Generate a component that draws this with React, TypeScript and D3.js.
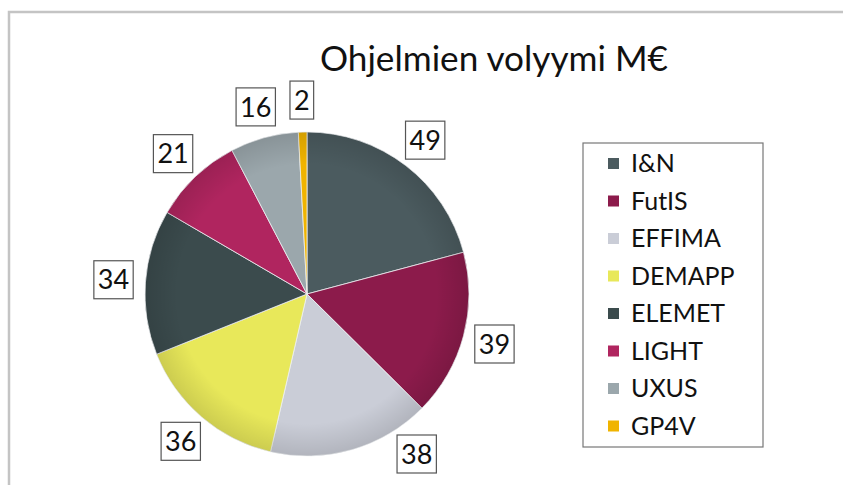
import React, { useEffect, useRef } from "react";
import * as d3 from "d3";

const categories = ["I&N", "FutIS", "EFFIMA", "DEMAPP", "ELEMET", "LIGHT", "UXUS", "GP4V"];
const values = [49, 39, 38, 36, 34, 21, 16, 2];
const colors = ["#4b5b5f", "#8c1b4b", "#cacdd7", "#e8e85a", "#3b4b4d", "#b0255f", "#9ba7ac", "#f0b400"];
const title = "Ohjelmien volyymi M€";

const W = 843;
const H = 485;
const FONT = "Lato, 'Open Sans', sans-serif";

const App = () => {
  const ref = useRef<SVGSVGElement | null>(null);

  useEffect(() => {
    const svg = d3.select(ref.current);
    svg.selectAll("*").remove();

    // outer frame
    svg
      .append("path")
      .attr("d", `M9,${H} V12 H${W}`)
      .attr("fill", "none")
      .attr("stroke", "#c4c4c4")
      .attr("stroke-width", 2.5);

    svg
      .append("text")
      .attr("x", 494)
      .attr("y", 71)
      .attr("text-anchor", "middle")
      .attr("font-family", FONT)
      .attr("font-size", 34)
      .attr("fill", "#111")
      .attr("textLength", 348)
      .attr("lengthAdjust", "spacingAndGlyphs")
      .text(title);

    const cx = 307;
    const cy = 294;
    const r = 162;
    const labelR = 194;
    const maxDy = 160;

    const data = categories.map((c, i) => ({ name: c, value: values[i], color: colors[i] }));
    const pie = d3.pie<any>().value((d) => d.value).sort(null);
    const arcs = pie(data);
    const arc = d3.arc<any>().innerRadius(0).outerRadius(r);

    const g = svg.append("g").attr("transform", `translate(${cx},${cy})`);

    g.selectAll("path.slice")
      .data(arcs)
      .join("path")
      .attr("class", "slice")
      .attr("d", arc)
      .attr("fill", (d) => d.data.color)
      .attr("stroke", "#eef0f2")
      .attr("stroke-width", 0.8);

    // soft shading like the original 3D-ish look
    const defs = svg.append("defs");
    const rg = defs
      .append("radialGradient")
      .attr("id", "shade")
      .attr("cx", "50%")
      .attr("cy", "50%")
      .attr("r", "50%");
    rg.append("stop").attr("offset", "80%").attr("stop-color", "#000").attr("stop-opacity", 0);
    rg.append("stop").attr("offset", "100%").attr("stop-color", "#000").attr("stop-opacity", 0.12);
    g.append("circle").attr("r", r).attr("fill", "url(#shade)");

    // data labels, outside end (pushed sideways when they'd fall off the bottom)
    const labels = g
      .selectAll("g.lbl")
      .data(arcs)
      .join("g")
      .attr("class", "lbl")
      .attr("transform", (d) => {
        let a = (d.startAngle + d.endAngle) / 2;
        let dy = -Math.cos(a) * labelR;
        if (dy > maxDy) {
          const off = Math.acos(maxDy / labelR);
          a = a < Math.PI ? Math.PI - off : Math.PI + off;
        }
        const x = Math.sin(a) * labelR;
        const y = -Math.cos(a) * labelR;
        return `translate(${x},${y})`;
      });

    labels.each(function (d) {
      const sel = d3.select(this);
      const t = sel
        .append("text")
        .attr("text-anchor", "middle")
        .attr("dy", "0.36em")
        .attr("font-family", FONT)
        .attr("font-size", 27)
        .attr("fill", "#111")
        .text(String(d.data.value));
      const bb = (t.node() as SVGTextElement).getBBox();
      const padX = 4;
      const h = 38;
      sel
        .insert("rect", "text")
        .attr("x", bb.x - padX)
        .attr("y", -h / 2)
        .attr("width", bb.width + padX * 2)
        .attr("height", h)
        .attr("fill", "#fff")
        .attr("stroke", "#555")
        .attr("stroke-width", 1.2);
    });

    // legend
    const lx = 583;
    const ly = 143;
    const lw = 180;
    const lh = 304;
    svg
      .append("rect")
      .attr("x", lx)
      .attr("y", ly)
      .attr("width", lw)
      .attr("height", lh)
      .attr("fill", "#fff")
      .attr("stroke", "#777")
      .attr("stroke-width", 1.2);

    const step = 37.5;
    const items = svg
      .selectAll("g.leg")
      .data(data)
      .join("g")
      .attr("class", "leg")
      .attr("transform", (d, i) => `translate(${lx + 25},${ly + 20 + i * step})`);
    items
      .append("rect")
      .attr("x", 0)
      .attr("y", -5)
      .attr("width", 11)
      .attr("height", 11)
      .attr("fill", (d) => d.color);
    items
      .append("text")
      .attr("x", 23)
      .attr("dy", "0.36em")
      .attr("font-family", FONT)
      .attr("font-size", 25)
      .attr("fill", "#111")
      .text((d) => d.name);
  }, []);

  return <svg ref={ref} width={W} height={H} style={{ position: "absolute", left: 0, top: 0, background: "#fff" }} />;
};

export default App;
